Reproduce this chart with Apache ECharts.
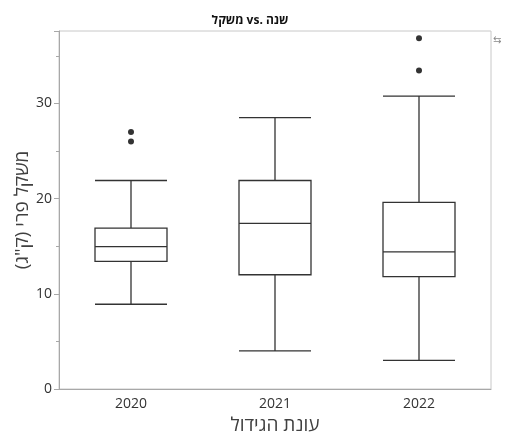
<!DOCTYPE html>
<html>
<head>
<meta charset="utf-8">
<script src="https://cdn.jsdelivr.net/npm/echarts@6/dist/echarts.min.js"></script>
<style>html,body{margin:0;padding:0;background:#fff}#c{width:506px;height:436px}</style>
</head>
<body>
<div id="c"></div>
<script>
const categories = ['2020', '2021', '2022'];
// [lower whisker, Q1, median, Q3, upper whisker]
const boxValues = [
  [8.9, 13.4, 14.95, 16.9, 21.9],
  [4.0, 12.0, 17.4, 21.9, 28.5],
  [3.0, 11.8, 14.4, 19.6, 30.75]
];
const outliers = [
  ['2020', 27.0], ['2020', 26.0],
  ['2022', 36.85], ['2022', 33.45]
];
const yTicks = [0, 10, 20, 30];

const font = '"Open Sans", "Noto Sans", sans-serif';
const chart = echarts.init(document.getElementById('c'));
chart.setOption({
  animation: false,
  title: {
    text: 'משקל vs. שנה',
    left: 245, top: 10, textAlign: 'center',
    textStyle: { fontSize: 12, fontWeight: 'bold', color: '#111', fontFamily: font }
  },
  graphic: [{
    type: 'text', left: 493, top: 35,
    style: { text: '⇆', fontSize: 10, fill: '#888', fontFamily: 'DejaVu Sans' }
  }],
  grid: { left: 59, right: 15, top: 31, bottom: 47, show: true, borderColor: '#c8c8c8', borderWidth: 1, outerBoundsMode: 'none', containLabel: false },
  xAxis: {
    type: 'category', data: categories, boundaryGap: true,
    name: 'עונת הגידול', nameLocation: 'middle', nameGap: 27, nameMoveOverlap: false,
    nameTextStyle: { fontSize: 19, color: '#404040', fontFamily: font },
    axisLine: { lineStyle: { color: '#a8a8a8' } },
    axisTick: { show: false },
    axisLabel: { fontSize: 14, color: '#333', fontFamily: font, margin: 8 },
    splitLine: { show: false }
  },
  yAxis: {
    type: 'value', min: 0, max: 37.6, interval: 10,
    name: 'משקל פרי (ק"ג)', nameLocation: 'middle', nameGap: 27, nameMoveOverlap: false,
    nameTextStyle: { fontSize: 19, color: '#404040', fontFamily: font },
    axisLine: { show: true, lineStyle: { color: '#a8a8a8' } },
    axisTick: { show: true, length: 5, lineStyle: { color: '#a8a8a8' } },
    minorTick: { show: true, splitNumber: 2, length: 3, lineStyle: { color: '#a8a8a8' } },
    axisLabel: { fontSize: 14, color: '#333', fontFamily: font, margin: 7,
      formatter: v => yTicks.includes(v) ? String(v) : '' },
    splitLine: { show: false }
  },
  series: [{
    type: 'boxplot',
    data: boxValues,
    boxWidth: [72, 72],
    itemStyle: { color: '#fff', borderColor: '#333', borderWidth: 1.3 },
    emphasis: { disabled: true }
  }, {
    type: 'scatter',
    data: outliers,
    symbol: 'circle', symbolSize: 6,
    itemStyle: { color: '#000' }
  }]
});
</script>
</body>
</html>
